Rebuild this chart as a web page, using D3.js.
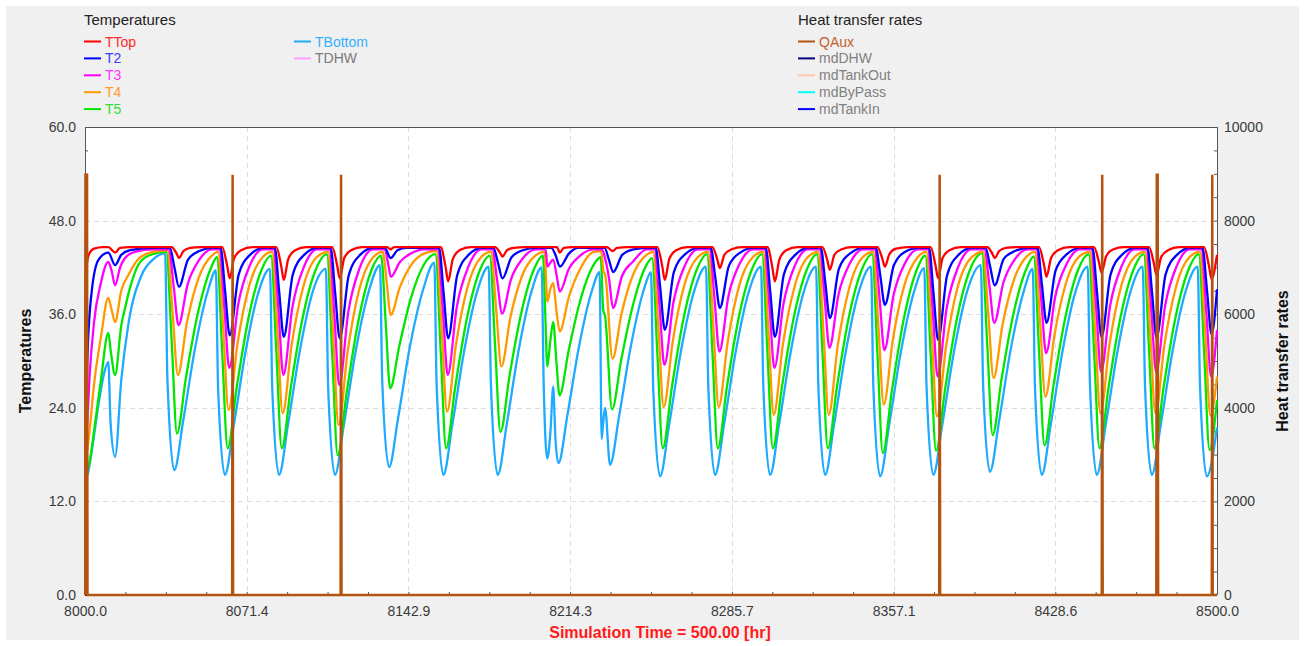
<!DOCTYPE html>
<html>
<head>
<meta charset="utf-8">
<title>Temperatures and heat transfer rates</title>
<script src="https://d3js.org/d3.v7.min.js"></script>
<style>
  body { margin: 0; background: #fff; }
  svg text { font-family: "Liberation Sans", Arial, sans-serif; }
</style>
</head>
<body>
<svg id="chart" width="1305" height="646"></svg>
<script>
// ---- data: [hour, value] ----
var tempTicks = [0, 12, 24, 36, 48, 60];
var rateTicks = [0, 2000, 4000, 6000, 8000, 10000];
var timeTicks = [8000, 8071.43, 8142.86, 8214.29, 8285.71, 8357.14, 8428.57, 8500];

var tempNames = ["TTop", "T2", "T3", "T4", "T5", "TBottom", "TDHW"];
var tempColors = ["#ff0000", "#0000ff", "#ff00ff", "#ff9900", "#00e600", "#1eaaff", "#ffa0ff"];
var tempTextColors = ["#ff2a2a", "#3a3aff", "#ff33ff", "#ff9a2a", "#33dd33", "#33b0ff", "#7a7a7a"];
var rateNames = ["QAux", "mdDHW", "mdTankOut", "mdByPass", "mdTankIn"];
var rateColors = ["#b4520f", "#00007f", "#ffc8a8", "#00ffff", "#0000ff"];
var rateTextColors = ["#c0622a", "#808080", "#808080", "#808080", "#808080"];

var tBottom = [
[8000.0,15.0],[8001.0,15.3],[8003.0,18.5],[8006.0,24.5],[8008.5,28.5],[8010.3,29.9],[8011.3,22.0],[8013.3,17.7],[8016.0,27.5],[8019.1,34.6],[8025.0,41.0],[8030.0,43.0],[8035.4,43.8],
[8036.4,27.7],[8039.4,16.0],[8043.4,22.4],[8048.4,31.3],[8054.4,39.1],
[8057.8,41.6],[8058.8,26.4],[8061.8,15.4],[8065.8,21.9],[8070.8,31.0],[8076.8,39.0],
[8081.7,41.8],[8082.7,26.6],[8085.7,15.4],[8089.7,21.9],[8094.7,31.0],[8100.7,39.0],
[8106.4,41.8],[8107.4,26.6],[8110.4,15.4],[8114.4,21.9],[8119.4,31.0],[8125.4,39.0],
[8130.3,42.3],[8131.3,27.3],[8134.3,16.4],[8138.3,22.7],[8143.3,31.5],[8149.3,39.1],
[8154.3,42.6],[8155.3,27.1],[8158.3,15.4],[8162.3,21.9],[8167.3,31.0],[8173.3,39.0],
[8178.3,42.1],[8179.3,26.9],[8182.3,15.4],[8186.3,21.9],[8191.3,31.0],[8197.3,39.0],
[8201.7,42.0],[8202.6,27.0],[8204.2,17.5],[8205.6,21.0],[8206.8,26.7],[8207.8,20.0],[8209.1,16.9],[8213.1,23.1],[8218.1,31.7],[8224.1,39.2],
[8227.3,41.4],[8228.2,20.0],[8229.0,22.5],[8229.7,24.0],[8231.9,16.7],[8235.9,22.9],[8240.9,31.6],[8246.9,39.2],
[8250.0,41.4],[8251.0,26.4],[8254.0,15.2],[8258.0,21.8],[8263.0,30.9],[8269.0,38.9],
[8274.3,42.1],[8275.3,26.9],[8278.3,15.4],[8282.3,21.9],[8287.3,31.0],[8293.3,39.0],
[8298.6,42.1],[8299.6,26.9],[8302.6,15.4],[8306.6,21.9],[8311.6,31.0],[8317.6,39.0],
[8322.9,42.1],[8323.9,26.9],[8326.9,15.4],[8330.9,21.9],[8335.9,31.0],[8341.9,39.0],
[8347.2,42.1],[8348.2,26.8],[8351.2,15.2],[8355.2,21.8],[8360.2,30.9],[8366.2,38.9],
[8370.7,41.9],[8371.7,26.8],[8374.7,15.4],[8378.7,21.9],[8383.7,31.0],[8389.7,39.0],
[8395.7,42.3],[8396.7,26.9],[8399.7,15.8],[8403.7,22.2],[8408.7,31.2],[8414.7,39.0],
[8418.6,41.8],[8419.6,26.6],[8422.6,15.4],[8426.6,21.9],[8431.6,31.0],[8437.6,39.0],
[8442.9,42.1],[8443.9,26.9],[8446.9,15.4],[8450.9,21.9],[8455.9,31.0],[8461.9,39.0],
[8467.2,42.1],[8468.2,26.9],[8471.2,15.4],[8475.2,21.9],[8480.2,31.0],[8486.2,39.0],
[8491.5,42.1],[8492.5,26.8],[8495.5,15.2],[8500.0,21.5]
];

var t5 = [
[8000.0,15.4],[8002.0,17.0],[8004.0,21.0],[8007.0,27.5],[8010.3,33.6],[8011.5,31.0],[8013.3,28.2],[8016.0,34.5],[8017.7,36.8],[8020.0,39.5],[8023.5,42.3],[8028.0,43.5],[8035.9,44.0],
[8038.3,32.4],[8040.6,20.7],[8044.6,27.9],[8049.6,35.8],[8055.6,41.9],
[8058.3,43.3],[8060.6,31.1],[8063.0,18.8],[8067.0,26.6],[8072.0,35.2],[8078.0,41.7],
[8082.2,43.5],[8084.5,31.2],[8086.9,18.8],[8090.9,26.6],[8095.9,35.2],[8101.9,41.7],
[8106.9,43.7],[8109.2,30.8],[8111.6,17.9],[8115.6,26.0],[8120.6,34.9],[8126.6,41.7],
[8130.8,43.5],[8132.8,35.0],[8134.8,26.5],[8138.8,31.9],[8143.8,37.9],[8149.8,42.4],
[8154.8,43.7],[8157.1,31.3],[8159.5,18.8],[8163.5,26.6],[8168.5,35.2],[8174.5,41.7],
[8178.8,43.5],[8181.1,32.2],[8183.5,20.9],[8187.5,28.1],[8192.5,35.9],[8198.5,41.9],
[8202.3,43.5],[8203.3,36.0],[8204.2,29.3],[8205.5,32.5],[8206.8,35.0],[8208.2,30.0],[8209.6,25.6],[8213.6,31.3],[8218.6,37.6],[8224.6,42.3],
[8227.8,43.3],[8228.9,36.5],[8229.7,35.8],[8232.8,23.8],[8236.8,30.1],[8241.8,36.9],[8247.8,42.2],
[8250.5,43.2],[8252.8,31.0],[8255.2,18.8],[8259.2,26.6],[8264.2,35.2],[8270.2,41.7],
[8274.8,43.7],[8277.1,31.3],[8279.5,18.8],[8283.5,26.6],[8288.5,35.2],[8294.5,41.7],
[8299.1,43.7],[8301.4,31.3],[8303.8,18.8],[8307.8,26.6],[8312.8,35.2],[8318.8,41.7],
[8323.4,43.7],[8325.7,31.3],[8328.1,18.8],[8332.1,26.6],[8337.1,35.2],[8343.1,41.7],
[8347.7,43.7],[8350.0,31.0],[8352.4,18.2],[8356.4,26.2],[8361.4,35.0],[8367.4,41.7],
[8371.2,43.5],[8373.5,31.0],[8375.9,18.5],[8379.9,26.4],[8384.9,35.1],[8390.9,41.7],
[8396.2,43.8],[8398.5,32.2],[8400.9,20.5],[8404.9,27.8],[8409.9,35.8],[8415.9,41.9],
[8419.1,43.4],[8421.4,31.3],[8423.8,19.2],[8427.8,26.9],[8432.8,35.3],[8438.8,41.8],
[8443.4,43.7],[8445.7,31.3],[8448.1,18.8],[8452.1,26.6],[8457.1,35.2],[8463.1,41.7],
[8467.7,43.7],[8470.0,31.3],[8472.4,18.8],[8476.4,26.6],[8481.4,35.2],[8487.4,41.7],
[8492.0,43.7],[8494.3,31.2],[8496.7,18.6],[8500.0,25.0]
];

var t4 = [
[8000.0,16.5],[8002.0,21.0],[8004.0,27.0],[8007.0,33.0],[8010.3,38.1],[8011.8,36.5],[8013.3,35.0],[8016.0,39.0],[8019.1,41.0],[8024.0,43.2],[8030.0,44.0],[8036.4,44.2],
[8038.7,36.2],[8041.0,28.2],[8045.0,34.9],[8050.0,40.5],[8056.0,43.5],
[8058.8,44.0],[8061.1,33.9],[8063.4,23.7],[8067.4,32.3],[8072.4,39.5],[8078.4,43.3],
[8082.7,44.0],[8085.0,33.7],[8087.3,23.3],[8091.3,32.1],[8096.3,39.4],[8102.3,43.3],
[8107.4,44.0],[8109.7,32.9],[8112.0,21.8],[8116.0,31.2],[8121.0,39.0],[8127.0,43.2],
[8131.5,44.0],[8133.3,40.0],[8135.0,35.9],[8139.0,39.4],[8144.0,42.3],[8150.0,43.8],
[8155.3,44.1],[8157.6,33.8],[8159.9,23.5],[8163.9,32.2],[8168.9,39.4],[8174.9,43.3],
[8179.3,44.0],[8181.6,36.7],[8183.9,29.3],[8187.9,35.6],[8192.9,40.8],[8198.9,43.5],
[8203.0,44.0],[8204.2,37.6],[8205.5,39.2],[8206.8,40.0],[8208.2,36.5],[8209.7,33.8],[8213.7,38.2],[8218.7,41.8],[8224.7,44.0],
[8228.0,44.1],[8229.0,41.5],[8229.8,41.0],[8233.0,30.3],[8237.0,36.1],[8242.0,41.0],[8248.0,43.6],
[8251.0,44.0],[8253.3,34.1],[8255.6,24.1],[8259.6,32.5],[8264.6,39.6],[8270.6,43.3],
[8275.3,44.0],[8277.6,34.1],[8279.9,24.1],[8283.9,32.5],[8288.9,39.6],[8294.9,43.3],
[8299.6,44.0],[8301.9,33.6],[8304.2,23.1],[8308.2,32.0],[8313.2,39.3],[8319.2,43.3],
[8323.9,44.0],[8326.2,33.6],[8328.5,23.1],[8332.5,32.0],[8337.5,39.3],[8343.5,43.3],
[8348.2,44.0],[8350.5,34.2],[8352.8,24.4],[8356.8,32.7],[8361.8,39.6],[8367.8,43.3],
[8371.7,44.0],[8374.0,33.5],[8376.3,22.9],[8380.3,31.8],[8385.3,39.3],[8391.3,43.2],
[8396.7,44.0],[8399.0,35.9],[8401.3,27.8],[8405.3,34.7],[8410.3,40.4],[8416.3,43.5],
[8419.6,44.0],[8421.9,34.7],[8424.2,25.4],[8428.2,33.3],[8433.2,39.9],[8439.2,43.4],
[8443.9,44.0],[8446.2,33.7],[8448.5,23.3],[8452.5,32.1],[8457.5,39.4],[8463.5,43.3],
[8468.2,44.0],[8470.5,33.7],[8472.8,23.3],[8476.8,32.1],[8481.8,39.4],[8487.8,43.3],
[8492.5,44.0],[8494.8,33.5],[8497.1,23.0],[8500.0,28.0]
];

var t3 = [
[8000.0,15.8],[8000.4,18.5],[8002.0,28.0],[8004.0,35.0],[8007.0,40.0],[8010.3,42.7],[8011.8,41.5],[8013.3,39.7],[8015.5,42.0],[8017.7,43.2],[8022.0,44.0],[8030.0,44.3],[8037.0,44.3],
[8039.2,39.5],[8041.3,34.6],[8045.3,39.8],[8050.3,42.9],[8056.3,44.3],
[8059.4,44.3],[8061.6,36.7],[8063.7,29.1],[8067.7,37.3],[8072.7,42.2],[8078.7,44.3],
[8083.3,44.3],[8085.5,36.3],[8087.6,28.2],[8091.6,36.9],[8096.6,42.0],[8102.6,44.3],
[8108.0,44.3],[8110.2,35.6],[8112.3,26.9],[8116.3,36.3],[8121.3,41.9],[8127.3,44.3],
[8132.5,44.3],[8133.8,42.6],[8135.1,40.8],[8139.1,42.7],[8144.1,43.8],[8150.1,44.3],
[8155.9,44.3],[8158.1,36.3],[8160.2,28.2],[8164.2,36.9],[8169.2,42.0],[8175.2,44.3],
[8179.9,44.3],[8182.1,40.2],[8184.2,36.1],[8188.2,40.5],[8193.2,43.1],[8199.2,44.3],
[8203.5,44.3],[8204.2,42.1],[8205.5,42.6],[8206.8,43.0],[8208.3,41.0],[8209.7,38.9],[8213.7,41.8],[8218.7,43.5],[8224.7,44.3],
[8228.3,44.3],[8229.7,43.2],[8231.5,40.5],[8233.2,36.8],[8237.2,40.9],[8242.2,42.8],[8248.2,44.3],
[8251.6,44.3],[8253.8,36.9],[8255.9,29.5],[8259.9,37.5],[8264.9,42.2],[8270.9,44.3],
[8275.9,44.3],[8278.1,37.8],[8280.2,31.2],[8284.2,38.3],[8289.2,42.5],[8295.2,44.3],
[8300.2,44.3],[8302.4,36.7],[8304.5,29.1],[8308.5,37.3],[8313.5,42.2],[8319.5,44.3],
[8324.5,44.3],[8326.7,38.0],[8328.8,31.7],[8332.8,38.5],[8337.8,42.5],[8343.8,44.3],
[8348.8,44.3],[8351.0,37.9],[8353.1,31.4],[8357.1,38.4],[8362.1,42.5],[8368.1,44.3],
[8372.3,44.3],[8374.5,36.2],[8376.6,28.0],[8380.6,36.8],[8385.6,42.0],[8391.6,44.3],
[8397.3,44.3],[8399.5,39.6],[8401.6,34.9],[8405.6,40.0],[8410.6,43.0],[8416.6,44.3],
[8420.2,44.3],[8422.4,37.7],[8424.5,31.0],[8428.5,38.2],[8433.5,42.4],[8439.5,44.3],
[8444.5,44.3],[8446.7,36.5],[8448.8,28.6],[8452.8,37.1],[8457.8,42.1],[8463.8,44.3],
[8468.8,44.3],[8471.0,36.5],[8473.1,28.6],[8477.1,37.1],[8482.1,42.1],[8488.1,44.3],
[8493.1,44.3],[8495.3,36.2],[8497.4,28.0],[8500.0,34.0]
];

var t2 = [
[8000.0,16.0],[8000.4,22.0],[8001.0,30.0],[8003.0,39.0],[8006.0,43.0],[8010.3,43.9],[8013.3,42.3],[8016.0,43.6],[8020.0,44.2],[8030.0,44.5],[8037.5,44.5],
[8039.5,42.0],[8041.5,39.5],[8045.5,43.0],[8050.5,44.1],[8056.5,44.5],
[8059.9,44.5],[8061.9,38.9],[8063.9,33.3],[8067.9,41.1],[8072.9,43.6],[8078.9,44.5],
[8083.8,44.5],[8085.8,38.8],[8087.8,33.1],[8091.8,41.1],[8096.8,43.6],[8102.8,44.5],
[8108.5,44.5],[8110.5,38.7],[8112.5,32.9],[8116.5,41.0],[8121.5,43.6],[8127.5,44.5],
[8132.4,44.5],[8135.0,43.2],[8138.0,44.2],[8142.0,44.5],
[8156.4,44.5],[8158.4,38.7],[8160.4,32.9],[8164.4,41.0],[8169.4,43.6],[8175.4,44.5],
[8180.4,44.5],[8182.4,42.6],[8184.4,40.6],[8188.4,43.3],[8193.4,44.2],[8199.4,44.5],
[8206.0,44.5],[8207.8,43.6],[8209.8,42.1],[8213.8,43.8],[8218.0,44.5],
[8229.5,44.5],[8231.4,43.0],[8233.3,41.4],[8237.3,43.6],[8242.3,44.3],[8248.3,44.5],
[8252.1,44.5],[8254.1,39.3],[8256.1,34.0],[8260.1,41.4],[8265.1,43.7],[8271.1,44.5],
[8276.4,44.5],[8278.4,40.7],[8280.4,36.8],[8284.4,42.2],[8289.4,43.9],[8295.4,44.5],
[8300.7,44.5],[8302.7,38.8],[8304.7,33.1],[8308.7,41.1],[8313.7,43.6],[8319.7,44.5],
[8325.0,44.5],[8327.0,40.0],[8329.0,35.5],[8333.0,41.8],[8338.0,43.8],[8344.0,44.5],
[8349.3,44.5],[8351.3,40.9],[8353.3,37.2],[8357.3,42.3],[8362.3,44.0],[8368.3,44.5],
[8372.8,44.5],[8374.8,38.6],[8376.8,32.7],[8380.8,41.0],[8385.8,43.6],[8391.8,44.5],
[8397.8,44.5],[8399.8,42.1],[8401.8,39.7],[8405.8,43.1],[8410.8,44.1],[8416.8,44.5],
[8420.7,44.5],[8422.7,39.7],[8424.7,34.9],[8428.7,41.6],[8433.7,43.7],[8439.7,44.5],
[8445.0,44.5],[8447.0,38.8],[8449.0,33.1],[8453.0,41.1],[8458.0,43.6],[8464.0,44.5],
[8469.3,44.5],[8471.3,38.8],[8473.3,33.0],[8477.3,41.1],[8482.3,43.6],[8488.3,44.5],
[8493.6,44.5],[8495.6,39.0],[8497.6,33.4],[8500.0,39.2]
];

var tTop = [
[8000.0,16.0],[8000.4,40.8],[8001.5,43.5],[8004.0,44.4],[8008.0,44.6],[8010.3,44.6],[8013.3,43.9],[8015.5,44.5],[8020.0,44.6],[8038.2,44.6],
[8040.4,43.8],[8041.5,43.2],[8043.5,44.1],[8046.5,44.5],[8051.5,44.6],
[8060.6,44.6],[8062.8,42.2],[8063.9,40.6],[8065.9,43.2],[8068.9,44.2],[8073.9,44.6],
[8084.5,44.6],[8086.7,42.1],[8087.8,40.4],[8089.8,43.1],[8092.8,44.2],[8097.8,44.6],
[8109.2,44.6],[8111.4,42.2],[8112.5,40.6],[8114.5,43.2],[8117.5,44.2],[8122.5,44.6],
[8133.5,44.6],[8135.0,44.3],[8136.5,44.6],
[8157.1,44.6],[8159.3,42.0],[8160.4,40.2],[8162.4,43.0],[8165.4,44.2],[8170.4,44.6],
[8181.1,44.6],[8183.3,43.9],[8184.4,43.4],[8186.4,44.2],[8189.4,44.5],[8194.4,44.6],
[8208.5,44.6],[8209.7,43.9],[8211.5,44.5],[8215.0,44.6],
[8230.5,44.6],[8233.0,44.1],[8235.0,44.5],[8240.0,44.6],
[8252.8,44.6],[8255.0,42.1],[8256.1,40.4],[8258.1,43.1],[8261.1,44.2],[8266.1,44.6],
[8277.1,44.6],[8279.3,43.0],[8280.4,41.9],[8282.4,43.6],[8285.4,44.3],[8290.4,44.6],
[8301.4,44.6],[8303.6,42.0],[8304.7,40.2],[8306.7,43.0],[8309.7,44.2],[8314.7,44.6],
[8325.7,44.6],[8327.9,42.9],[8329.0,41.7],[8331.0,43.6],[8334.0,44.3],[8339.0,44.6],
[8350.0,44.6],[8352.2,43.1],[8353.3,42.1],[8355.3,43.7],[8358.3,44.4],[8363.3,44.6],
[8373.5,44.6],[8375.7,42.2],[8376.8,40.6],[8378.8,43.2],[8381.8,44.2],[8386.8,44.6],
[8398.5,44.6],[8400.7,43.8],[8401.8,43.2],[8403.8,44.1],[8406.8,44.5],[8411.8,44.6],
[8421.4,44.6],[8423.6,42.3],[8424.7,40.8],[8426.7,43.2],[8429.7,44.2],[8434.7,44.6],
[8445.7,44.6],[8447.9,42.6],[8449.0,41.3],[8451.0,43.4],[8454.0,44.3],[8459.0,44.6],
[8470.0,44.6],[8472.2,42.4],[8473.3,41.0],[8475.3,43.3],[8478.3,44.2],[8483.3,44.6],
[8494.3,44.6],[8496.5,42.1],[8497.6,40.5],[8500.0,43.6]
];

var qAux = [
[8000.0,0],[8000.2,8980],[8000.9,8980],[8001.1,0],
[8065.0,0],[8065.2,8980],[8065.4,0],
[8112.9,0],[8113.1,8980],[8113.3,0],
[8377.3,0],[8377.5,8980],[8377.7,0],
[8449.1,0],[8449.3,8980],[8449.5,0],
[8473.2,0],[8473.4,8980],[8473.8,8980],[8474.0,0],
[8497.7,0],[8497.9,8980],[8498.1,0],
[8500.0,0]
];
var flowZero = [[8000, 0], [8500, 0]];

// ---- layout ----
var svg = d3.select("#chart");
var plotL = 85, plotR = 1217, plotT = 127, plotB = 595;

svg.append("rect").attr("x", 6).attr("y", 6).attr("width", 1293).attr("height", 634)
    .attr("fill", "#f0f0f0");

var x = d3.scaleLinear().domain([8000, 8500]).range([plotL, plotR]);
var yT = d3.scaleLinear().domain([0, 60]).range([plotB, plotT]);
var yQ = d3.scaleLinear().domain([0, 10000]).range([plotB, plotT]);

svg.append("rect").attr("x", plotL).attr("y", plotT)
    .attr("width", plotR - plotL).attr("height", plotB - plotT).attr("fill", "#fff");

svg.append("clipPath").attr("id", "plotclip").append("rect")
    .attr("x", plotL - 1).attr("y", plotT).attr("width", plotR - plotL + 2).attr("height", plotB - plotT + 2);

// grid
var grid = svg.append("g").attr("stroke", "#dcdcdc").attr("stroke-dasharray", "5,4").attr("stroke-width", 1);
grid.selectAll(".gh").data(tempTicks.slice(1, -1)).enter().append("line")
    .attr("x1", plotL).attr("x2", plotR)
    .attr("y1", function (d) { return Math.round(yT(d)) + 0.5; })
    .attr("y2", function (d) { return Math.round(yT(d)) + 0.5; });
grid.selectAll(".gv").data(timeTicks.slice(1, -1)).enter().append("line")
    .attr("y1", plotT).attr("y2", plotB)
    .attr("x1", function (d) { return Math.round(x(d)) + 0.5; })
    .attr("x2", function (d) { return Math.round(x(d)) + 0.5; });

// axes
function styleAxis(g) {
    g.select(".domain").remove();
    g.selectAll(".tick line").attr("stroke", "#555");
    g.selectAll(".tick text").attr("fill", "#3a3a3a").style("font-size", "14px")
        .style("font-family", "'Liberation Sans', Arial, sans-serif");
}
function noLabel(g) { g.select(".domain").remove(); g.selectAll(".tick text").remove(); g.selectAll(".tick line").attr("stroke", "#555"); }

svg.append("g").attr("transform", "translate(" + plotL + ",0)")
    .call(d3.axisLeft(yT).tickValues(d3.range(0, 60.01, 3)).tickSize(-3)).call(noLabel);
svg.append("g").attr("transform", "translate(" + plotL + ",0)")
    .call(d3.axisLeft(yT).tickValues(tempTicks).tickFormat(d3.format(".1f")).tickSize(0).tickPadding(9))
    .call(styleAxis);

svg.append("g").attr("transform", "translate(" + plotR + ",0)")
    .call(d3.axisRight(yQ).tickValues(d3.range(0, 10001, 500)).tickSize(-3)).call(noLabel);
svg.append("g").attr("transform", "translate(" + plotR + ",0)")
    .call(d3.axisRight(yQ).tickValues(rateTicks).tickFormat(d3.format("d")).tickSize(0).tickPadding(7))
    .call(styleAxis);

svg.append("g").attr("transform", "translate(0," + plotB + ")")
    .call(d3.axisBottom(x).tickValues(d3.range(0, 29).map(function (i) { return 8000 + i * 500 / 28; })).tickSize(-3))
    .call(noLabel);
svg.append("g").attr("transform", "translate(0," + plotB + ")")
    .call(d3.axisBottom(x).tickValues(timeTicks).tickFormat(d3.format(".1f")).tickSize(0).tickPadding(11))
    .call(styleAxis);

// frame
var frame = svg.append("g").attr("stroke", "#555").attr("stroke-width", 1).attr("fill", "none");
frame.append("line").attr("x1", plotL + 0.5).attr("x2", plotL + 0.5).attr("y1", plotT).attr("y2", plotB);
frame.append("line").attr("x1", plotR + 0.5).attr("x2", plotR + 0.5).attr("y1", plotT).attr("y2", plotB);
frame.append("line").attr("x1", plotL).attr("x2", plotR).attr("y1", plotT + 0.5).attr("y2", plotT + 0.5);
frame.append("line").attr("x1", plotL).attr("x2", plotR).attr("y1", plotB + 0.5).attr("y2", plotB + 0.5);

// series
var plot = svg.append("g").attr("clip-path", "url(#plotclip)");
var lineT = d3.line().x(function (d) { return x(d[0]); }).y(function (d) { return yT(d[1]); })
    .curve(d3.curveMonotoneX);
var lineQ = d3.line().x(function (d) { return x(d[0]); }).y(function (d) { return yQ(d[1]); });

var tempSeries = [tBottom, t5, t4, t3, t2, tTop];
var tempSeriesColors = [tempColors[5], tempColors[4], tempColors[3], tempColors[2], tempColors[1], tempColors[0]];
tempSeries.forEach(function (s, i) {
    plot.append("path").datum(s).attr("d", lineT).attr("fill", "none")
        .attr("stroke", tempSeriesColors[i]).attr("stroke-width", 2.3).attr("stroke-linejoin", "round");
});
[4, 3, 2, 1].forEach(function (i) {
    plot.append("path").datum(flowZero).attr("d", lineQ).attr("fill", "none")
        .attr("stroke", rateColors[i]).attr("stroke-width", 2);
});
plot.append("path").datum(qAux).attr("d", lineQ).attr("fill", "none")
    .attr("stroke", rateColors[0]).attr("stroke-width", 2.5);

// axis titles
svg.append("text").attr("transform", "translate(31,361) rotate(-90)").attr("text-anchor", "middle")
    .style("font-size", "16px").style("font-weight", "bold").attr("fill", "#111").text("Temperatures");
svg.append("text").attr("transform", "translate(1288,361) rotate(-90)").attr("text-anchor", "middle")
    .style("font-size", "16px").style("font-weight", "bold").attr("fill", "#111").text("Heat transfer rates");
svg.append("text").attr("x", 660).attr("y", 638).attr("text-anchor", "middle")
    .style("font-size", "16px").style("font-weight", "bold").attr("fill", "#ff1a1a")
    .text("Simulation Time = 500.00 [hr]");

// legends
function legend(x0, title, names, colors, textColors, colStart, colX) {
    var g = svg.append("g");
    g.append("text").attr("x", x0).attr("y", 25).style("font-size", "15px").attr("fill", "#222").text(title);
    names.forEach(function (n, i) {
        var col = i >= colStart ? 1 : 0;
        var row = col ? i - colStart : i;
        var lx = x0 + col * colX;
        var ly = 41.5 + row * 16.9;
        g.append("line").attr("x1", lx).attr("x2", lx + 17).attr("y1", ly).attr("y2", ly)
            .attr("stroke", colors[i]).attr("stroke-width", 2);
        g.append("text").attr("x", lx + 21).attr("y", ly + 5).style("font-size", "14px")
            .attr("fill", textColors[i]).text(n);
    });
}
legend(84, "Temperatures", tempNames, tempColors, tempTextColors, 5, 210);
legend(798, "Heat transfer rates", rateNames, rateColors, rateTextColors, 99, 0);
</script>
</body>
</html>
